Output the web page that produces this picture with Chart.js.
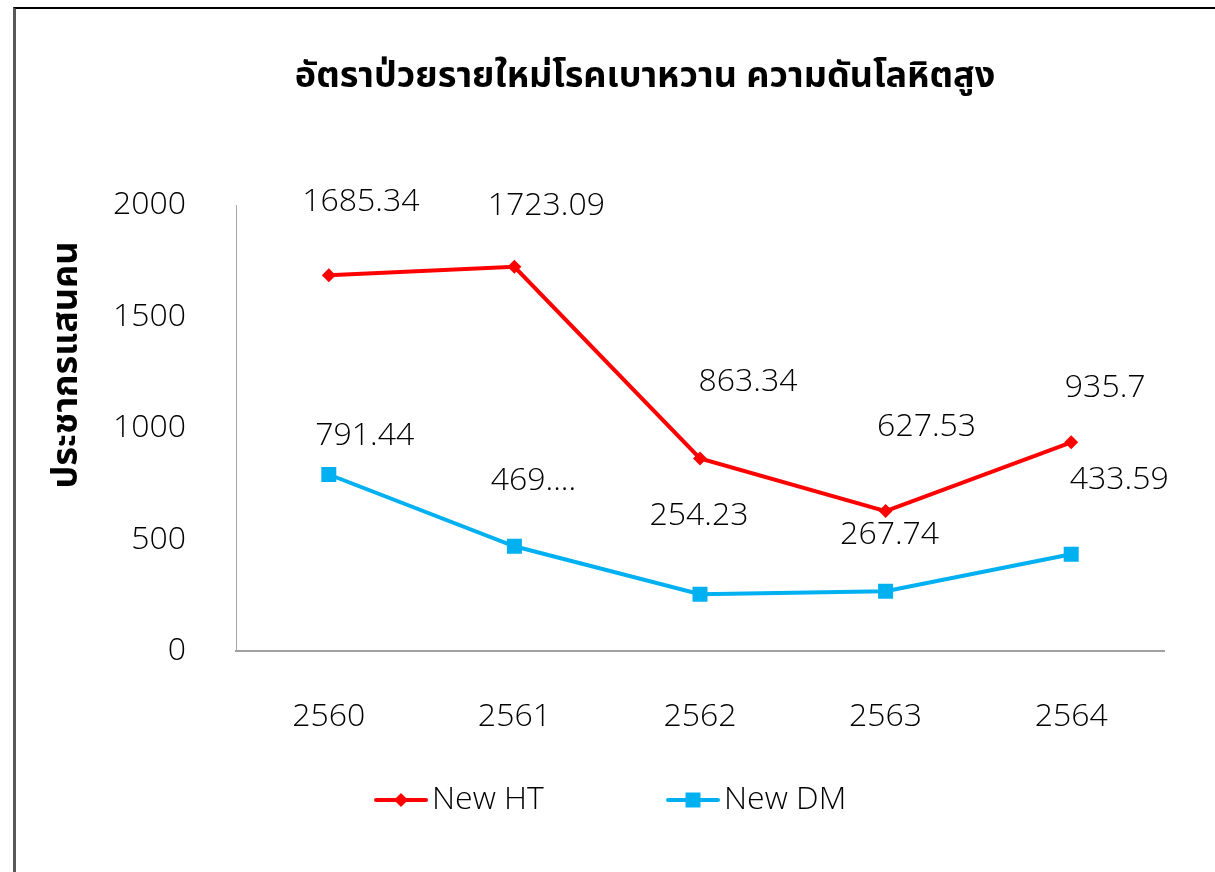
<!DOCTYPE html>
<html>
<head>
<meta charset="utf-8">
<script src="https://cdn.jsdelivr.net/npm/chart.js@4/dist/chart.umd.min.js"></script>
<style>
  html, body { margin: 0; padding: 0; background: #fff; }
  #frame { position: absolute; left: 13px; top: 7px; width: 1210px; height: 870px;
           border-left: 3px solid #595959; border-top: 2px solid #000; }
  #chart { position: absolute; left: 0; top: 0; }
</style>
</head>
<body>
<div id="frame"></div>
<canvas id="chart" width="1215" height="872"></canvas>
<script>
// ===== ข้อมูล =====
const chartTitle = "อัตราป่วยรายใหม่โรคเบาหวาน ความดันโลหิตสูง";
const yTitle = "ประชากรแสนคน";
const years = ["2560", "2561", "2562", "2563", "2564"];
const newHT = [1685.34, 1723.09, 863.34, 627.53, 935.7];
const newDM = [791.44, 469.5, 254.23, 267.74, 433.59];
const htLabels = ["1685.34", "1723.09", "863.34", "627.53", "935.7"];
const dmLabels = ["791.44", "469....", "254.23", "267.74", "433.59"];
const yTicks = [0, 500, 1000, 1500, 2000];

// ตำแหน่งป้ายค่า (เลื่อนจากจุด, px)
const htLabelDx = [32, 32, 48, 41, 34];
const htLabelDy = [-73, -61, -77, -84, -54];
const dmLabelDx = [36, 19, -1, 4, 48];
const dmLabelDy = [-39, -65, -78, -56, -74];

const NUM_FONT = "300 32px 'Open Sans', 'Segoe UI', sans-serif";
const THAI_FONT = "'Noto Sans Thai', 'Leelawadee UI', 'Tahoma', 'Noto Sans', sans-serif";

function drawMarker(ctx, style, x, y, color) {
  ctx.fillStyle = color;
  ctx.beginPath();
  if (style === "rectRot") {
    const r = 7;
    ctx.moveTo(x, y - r); ctx.lineTo(x + r, y); ctx.lineTo(x, y + r); ctx.lineTo(x - r, y);
  } else {
    const s = 7.5;
    ctx.rect(x - s, y - s, 2 * s, 2 * s);
  }
  ctx.closePath();
  ctx.fill();
}

// ===== ป้ายค่า, ชื่อกราฟ, ชื่อแกน Y, คำอธิบาย =====
const decor = {
  id: "decor",
  afterDatasetsDraw(chart) {
    const ctx = chart.ctx;
    const offsets = [[htLabelDx, htLabelDy, htLabels], [dmLabelDx, dmLabelDy, dmLabels]];
    ctx.save();
    ctx.font = NUM_FONT;
    ctx.fillStyle = "#000";
    ctx.textAlign = "center";
    ctx.textBaseline = "middle";
    chart.data.datasets.forEach((ds, di) => {
      const [dx, dy, txt] = offsets[di];
      chart.getDatasetMeta(di).data.forEach((pt, i) => {
        ctx.fillText(txt[i], pt.x + dx[i], pt.y + dy[i]);
      });
    });
    ctx.restore();
  },
  afterDraw(chart) {
    const ctx = chart.ctx;

    // ชื่อกราฟ
    ctx.save();
    ctx.font = "bold 36px " + THAI_FONT;
    ctx.fillStyle = "#000";
    ctx.textAlign = "center";
    ctx.textBaseline = "middle";
    ctx.fillText(chartTitle, 645, 80);
    ctx.restore();

    // ชื่อแกน Y
    ctx.save();
    ctx.translate(70, 365);
    ctx.rotate(-Math.PI / 2);
    ctx.font = "bold 36px " + THAI_FONT;
    ctx.fillStyle = "#000";
    ctx.textAlign = "center";
    ctx.textBaseline = "middle";
    ctx.fillText(yTitle, 0, 0);
    ctx.restore();

    // คำอธิบาย
    const legendX = [376, 668];
    const legendY = 800;
    ctx.save();
    ctx.font = NUM_FONT;
    ctx.textAlign = "left";
    ctx.textBaseline = "middle";
    chart.data.datasets.forEach((ds, i) => {
      const x = legendX[i];
      ctx.strokeStyle = ds.borderColor;
      ctx.lineWidth = 4;
      ctx.lineCap = "round";
      ctx.beginPath();
      ctx.moveTo(x, legendY);
      ctx.lineTo(x + 50, legendY);
      ctx.stroke();
      drawMarker(ctx, ds.pointStyle, x + 25, legendY, ds.borderColor);
      ctx.fillStyle = "#000";
      ctx.fillText(ds.label, x + 56, legendY);
    });
    ctx.restore();
  }
};

new Chart(document.getElementById("chart"), {
  type: "line",
  data: {
    labels: years,
    datasets: [
      {
        label: "New HT",
        data: newHT,
        borderColor: "#FF0000",
        backgroundColor: "#FF0000",
        borderWidth: 4,
        pointStyle: "rectRot",
        pointRadius: 7,
        pointBorderWidth: 0,
        tension: 0
      },
      {
        label: "New DM",
        data: newDM,
        borderColor: "#00B0F0",
        backgroundColor: "#00B0F0",
        borderWidth: 4,
        pointStyle: "rect",
        pointRadius: 10.6,
        pointBorderWidth: 0,
        tension: 0
      }
    ]
  },
  options: {
    responsive: false,
    animation: false,
    layout: { padding: { left: 100, right: 51, top: 205, bottom: 0 } },
    plugins: {
      legend: { display: false },
      tooltip: { enabled: false },
      title: { display: false }
    },
    scales: {
      x: {
        offset: true,
        grid: { display: false, drawTicks: false },
        border: { display: true, color: "#a0a0a0", width: 2 },
        ticks: { color: "#000", padding: 47, font: { family: "'Open Sans', sans-serif", size: 32, weight: "300" } },
        afterFit(scale) { scale.height = 221; }
      },
      y: {
        min: 0,
        max: 2000,
        afterBuildTicks(scale) { scale.ticks = yTicks.map(v => ({ value: v })); },
        grid: { display: false, drawTicks: false },
        border: { display: true, color: "#a6a6a6", width: 1 },
        ticks: {
          color: "#000",
          padding: 50,
          font: { family: "'Open Sans', sans-serif", size: 32, weight: "300" },
          callback: v => String(v)
        },
        afterFit(scale) { scale.width = 136; }
      }
    }
  },
  plugins: [decor]
});
</script>
</body>
</html>
